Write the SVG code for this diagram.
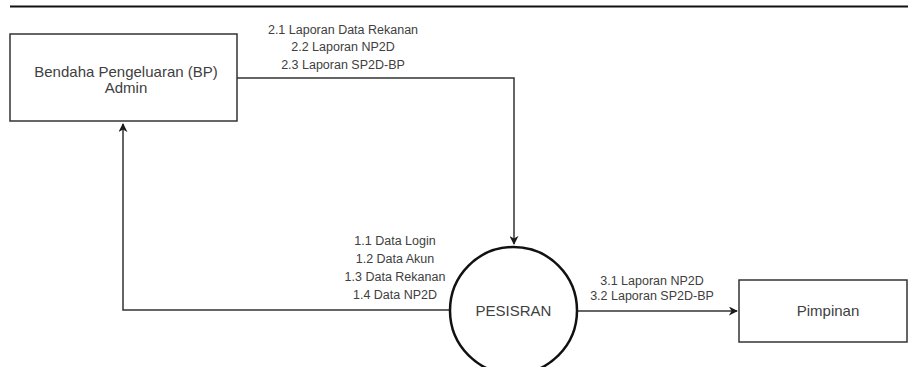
<svg xmlns="http://www.w3.org/2000/svg" width="908" height="367" viewBox="0 0 908 367">
  <defs>
    <marker id="arrow" viewBox="0 0 10 10" refX="9" refY="5" markerWidth="9" markerHeight="9" markerUnits="userSpaceOnUse" orient="auto">
      <path d="M0,0 L10,5 L0,10 L3,5 Z" fill="#1a1a1a"/>
    </marker>
  </defs>
  <style>
    .box { fill: #ffffff; stroke: #333333; stroke-width: 1.5; }
    .proc { fill: #ffffff; stroke: #111111; stroke-width: 2.5; }
    .flow { fill: none; stroke: #333333; stroke-width: 1.5; }
    .name { font-family: "Liberation Sans", Arial, sans-serif; font-size: 15px; fill: #404040; text-anchor: middle; }
    .lbl { font-family: "Liberation Sans", Arial, sans-serif; font-size: 12.5px; fill: #404040; text-anchor: middle; }
  </style>
  <rect width="908" height="367" fill="#ffffff"/>
  <line x1="10" y1="6.5" x2="908" y2="6.5" stroke="#111111" stroke-width="2"/>

  <g id="connectors">
    <path class="flow" d="M237,78 H514 V244" marker-end="url(#arrow)"/>
    <path class="flow" d="M450,310 H123 V124" marker-end="url(#arrow)"/>
    <path class="flow" d="M577,311 H737" marker-end="url(#arrow)"/>
    <g class="lbl">
      <text x="343" y="34">2.1 Laporan Data Rekanan</text>
      <text x="343" y="51">2.2 Laporan NP2D</text>
      <text x="343" y="69">2.3 Laporan SP2D-BP</text>
      <text x="395" y="245">1.1 Data Login</text>
      <text x="395" y="263">1.2 Data Akun</text>
      <text x="395" y="281">1.3 Data Rekanan</text>
      <text x="395" y="299">1.4 Data NP2D</text>
      <text x="652" y="285">3.1 Laporan NP2D</text>
      <text x="652" y="300">3.2 Laporan SP2D-BP</text>
    </g>
  </g>

  <g id="bendahara">
    <rect class="box" x="10" y="34" width="227" height="87"/>
    <text class="name" x="126" y="77">Bendaha Pengeluaran (BP)</text>
    <text class="name" x="126" y="93">Admin</text>
  </g>

  <g id="pesisran">
    <circle class="proc" cx="513.5" cy="310.5" r="63.5"/>
    <text class="name" x="513.5" y="316">PESISRAN</text>
  </g>

  <g id="pimpinan">
    <rect class="box" x="739" y="280" width="168" height="62"/>
    <text class="name" x="828" y="316">Pimpinan</text>
  </g>
</svg>
